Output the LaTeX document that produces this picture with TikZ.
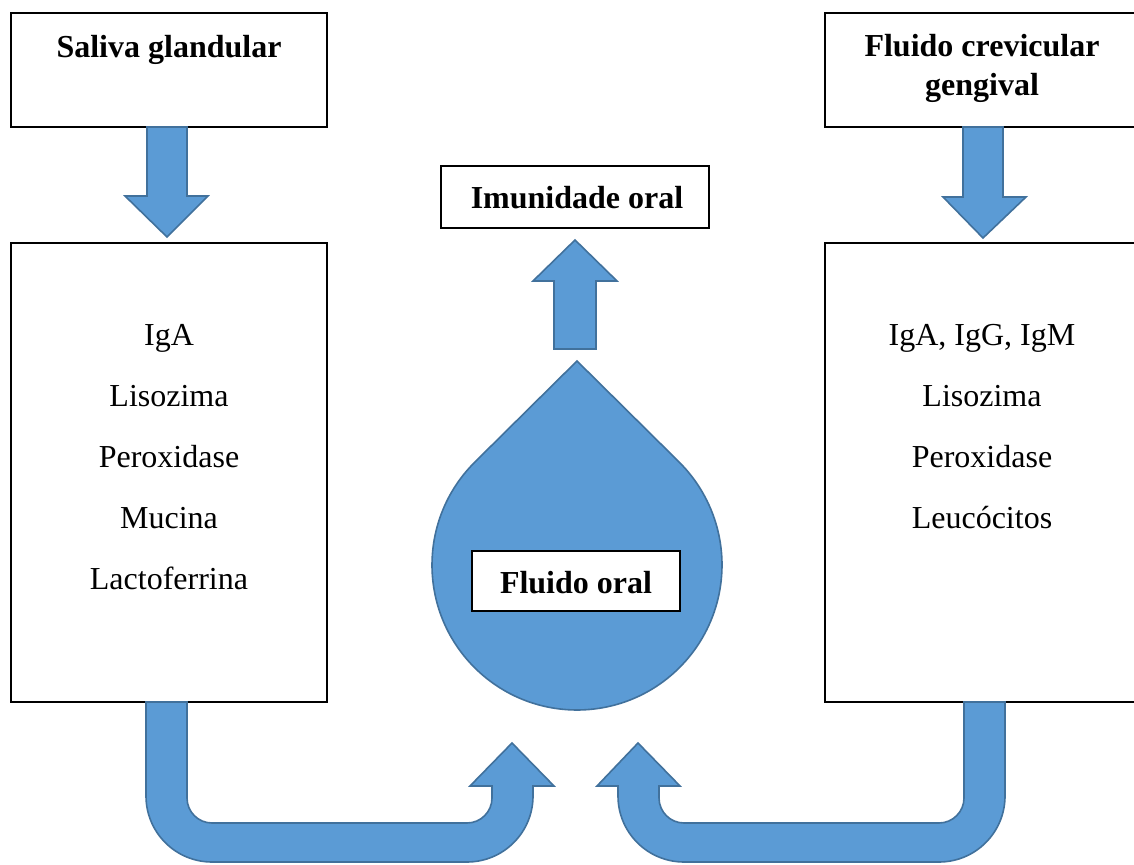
\documentclass[tikz,border=0pt]{standalone}
\usepackage{fontspec}
\setmainfont{Liberation Serif}
\usetikzlibrary{calc}
\definecolor{arrowfill}{HTML}{5B9BD5}
\definecolor{arrowline}{HTML}{41719C}
\begin{document}
\begin{tikzpicture}[x=0.75pt,y=0.75pt,
  blockarrow/.style={fill=arrowfill,draw=arrowline,line width=1.2pt,line join=miter},
  box/.style={draw=black,line width=1.1pt,fill=white,inner sep=0pt,rectangle},
  label/.style={font=\fontsize{24}{29}\selectfont,anchor=base,inner sep=0pt},
  title/.style={label,font=\fontsize{24}{29}\selectfont\bfseries}]
\clip (0,0) rectangle (1134,864);
\fill[white] (0,0) rectangle (1134,864);

% boxes
\node[box,minimum width=237pt,minimum height=85.5pt] (sal) at (169,794) {};
\node[box,minimum width=237pt,minimum height=344.25pt] (sallist) at (169,391.5) {};
\node[box,minimum width=237pt,minimum height=85.5pt] (fcg) at (983,794) {};
\node[box,minimum width=237pt,minimum height=344.25pt] (fcglist) at (983,391.5) {};
\node[box,minimum width=201pt,minimum height=46.5pt] (imu) at (575,667) {};

% down arrows
\draw[blockarrow] (147,737) -- (147,668) -- (125,668) -- (167,627) -- (208,668) -- (187,668) -- (187,737) -- cycle;
\draw[blockarrow] (963,737) -- (963,667) -- (943,667) -- (983,626) -- (1026,667) -- (1003,667) -- (1003,737) -- cycle;

% up arrow to immunity
\draw[blockarrow] (554,515) -- (554,583) -- (533,583) -- (575,624) -- (617,583) -- (596,583) -- (596,515) -- cycle;

% drop
\coordinate (dropc) at (577,299);
\draw[blockarrow] (577,503) -- ($(dropc)+(134.7:145)$) arc (134.7:405.3:145) -- cycle;
\node[box,minimum width=156pt,minimum height=45pt] (fo) at (576,283) {};

% U arrows
\draw[blockarrow] (146,162) -- (146,68) arc (180:270:66) -- (467,2) arc (270:360:66)
  -- (533,78) -- (554,78) -- (512,121) -- (470,78) -- (492,78) -- (492,66)
  arc (0:-90:25) -- (212,41) arc (270:180:25) -- (187,162) -- cycle;
\draw[blockarrow] (1005,162) -- (1005,68) arc (0:-90:66) -- (684,2) arc (270:180:66)
  -- (618,78) -- (597,78) -- (638,121) -- (680,78) -- (659,78) -- (659,66)
  arc (180:270:25) -- (939,41) arc (270:360:25) -- (964,162) -- cycle;

% texts
\node[title] (t1) at (169,806) {Saliva glandular};
\node[title] (t2) at (982,807) {Fluido crevicular};
\node[title] (t3) at (982,768) {gengival};
\node[title] (t4) at (577,655) {Imunidade oral};
\node[title] (t5) at (576,270) {Fluido oral};

\node[label] (l1) at (169,518) {IgA};
\node[label] (l2) at (169,457) {Lisozima};
\node[label] (l3) at (169,396) {Peroxidase};
\node[label] (l4) at (169,335) {Mucina};
\node[label] (l5) at (169,274) {Lactoferrina};

\node[label] (r1) at (982,518) {IgA, IgG, IgM};
\node[label] (r2) at (982,457) {Lisozima};
\node[label] (r3) at (982,396) {Peroxidase};
\node[label] (r4) at (982,335) {Leucócitos};
\end{tikzpicture}
\end{document}
